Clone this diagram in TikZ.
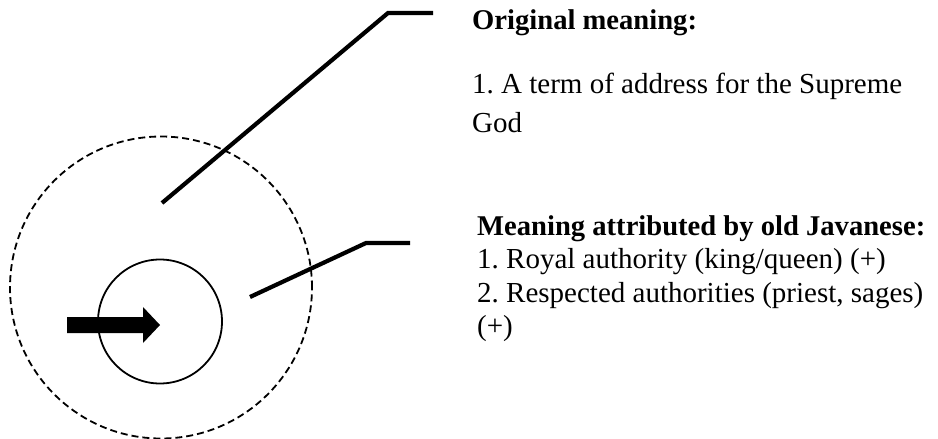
\documentclass[tikz,border=0pt]{standalone}
\usepackage{fontspec}
\setmainfont{Liberation Serif}
\frenchspacing
\begin{document}
\begin{tikzpicture}[x=1pt,y=-1pt,
  txt/.style={anchor=base west,inner sep=0pt,font=\fontsize{29}{33.5}\selectfont},
  head/.style={txt,font=\fontsize{28.6}{33.5}\selectfont\bfseries},
  leader/.style={line width=4.2pt,line join=miter},
  ring/.style={circle,draw,line width=1.8pt,inner sep=0pt}]
\useasboundingbox (0,0) rectangle (938,439);
% circles
\node[ring,dash pattern=on 7pt off 4pt,minimum size=302pt] (outer) at (161,287.5) {};
\node[ring,minimum size=124pt] (inner) at (160,321.5) {};
% block arrow
\fill (67,317) -- (143,317) -- (143,307) -- (160,325) -- (143,343) -- (143,333) -- (67,333) -- cycle;
% texts
\node[head] (h1) at (472,29) {Original meaning:};
\node[txt] (t1a) at (472,93) {1. A term of address for the Supreme};
\node[txt] (t1b) at (472,132) {God};
\node[head] (h2) at (477,235) {Meaning attributed by old Javanese:};
\node[txt] (t2a) at (477,268.5) {1. Royal authority (king/queen) (+)};
\node[txt] (t2b) at (477,302) {2. Respected authorities (priest, sages)};
\node[txt] (t2c) at (477,335.5) {(+)};
% leader lines
\coordinate (s1) at (162,203);
\coordinate (k1) at (388,13);
\coordinate (e1) at (433,13);
\coordinate (s2) at (250,297);
\coordinate (k2) at (366,243);
\coordinate (e2) at (410,243);
\draw[leader] (s1) -- (k1) -- (e1);
\draw[leader] (s2) -- (k2) -- (e2);
\end{tikzpicture}
\end{document}
